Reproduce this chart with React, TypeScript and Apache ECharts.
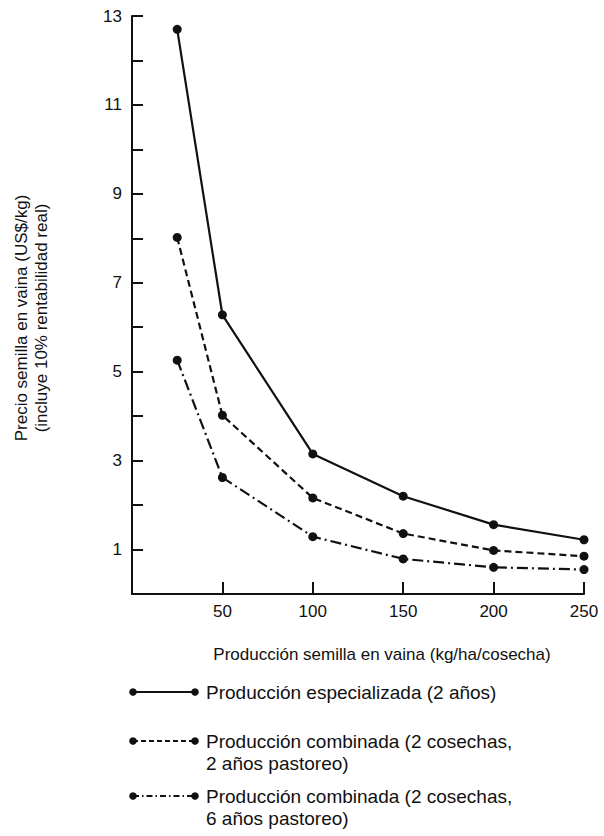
import React, { useEffect, useRef } from "react";
import * as echarts from "echarts";

const xValues = [25, 50, 100, 150, 200, 250];
const especializada = [12.7, 6.28, 3.15, 2.2, 1.56, 1.22];
const combinada2 = [8.02, 4.02, 2.16, 1.36, 0.98, 0.85];
const combinada6 = [5.26, 2.62, 1.29, 0.79, 0.6, 0.55];

const seriesNames = [
  "Producción especializada (2 años)",
  "Producción combinada (2 cosechas,\n2 años pastoreo)",
  "Producción combinada (2 cosechas,\n6 años pastoreo)",
];
const xTitle = "Producción semilla en vaina (kg/ha/cosecha)";
const yTitle1 = "Precio semilla en vaina (US$/kg)";
const yTitle2 = "(incluye 10% rentabilidad real)";

const FONT = "Liberation Sans, Arial, Helvetica, sans-serif";
const INK = "#111";
const DASHES: any[] = ["solid", [7, 4], [11, 4, 2, 4]];
const LEGEND_DASHES: any[] = [null, [5, 3], [6, 3, 1.5, 3]];

export default function App() {
  const ref = useRef<HTMLDivElement>(null);
  useEffect(() => {
    if (!ref.current) return;
    const chart = echarts.init(ref.current, undefined, { renderer: "svg" });
    const datasets = [especializada, combinada2, combinada6];
    const series = datasets.map((vals, i) => ({
      type: "line",
      name: seriesNames[i],
      data: xValues.map((x, j) => [x, vals[j]]),
      symbol: "circle",
      symbolSize: 9,
      itemStyle: { color: INK },
      lineStyle: { color: INK, width: 2.2, type: DASHES[i] },
    }));

    const legendYs = [692, 741, 796];
    const legendGraphics: any[] = [];
    legendYs.forEach((y, i) => {
      legendGraphics.push({
        type: "line",
        shape: { x1: 133, y1: y, x2: 195, y2: y },
        style: { stroke: INK, lineWidth: 1.8, lineDash: LEGEND_DASHES[i] },
      });
      legendGraphics.push({ type: "circle", shape: { cx: 133, cy: y, r: 3.8 }, style: { fill: INK } });
      legendGraphics.push({ type: "circle", shape: { cx: 195, cy: y, r: 3.8 }, style: { fill: INK } });
      legendGraphics.push({
        type: "text",
        x: 206,
        y: y - 11,
        style: { text: seriesNames[i], font: `19px ${FONT}`, fill: INK, lineHeight: 22 },
      });
    });

    chart.setOption({
      animation: false,
      backgroundColor: "#fff",
      grid: { left: 132, right: 20, top: 16, bottom: 242 },
      xAxis: {
        type: "value",
        min: 0,
        max: 250,
        interval: 50,
        axisLine: { lineStyle: { color: INK, width: 2 } },
        axisTick: { inside: true, length: 12, lineStyle: { color: INK, width: 2 } },
        splitLine: { show: false },
        axisLabel: {
          color: INK,
          fontSize: 17,
          fontFamily: FONT,
          margin: 9,
          formatter: (v: number) => (v === 0 ? "" : String(v)),
        },
      },
      yAxis: {
        type: "value",
        min: 0,
        max: 13,
        interval: 1,
        axisLine: { show: true, lineStyle: { color: INK, width: 2 } },
        axisTick: { show: true, inside: true, length: 11, lineStyle: { color: INK, width: 2 } },
        splitLine: { show: false },
        axisLabel: {
          color: INK,
          fontSize: 17,
          fontFamily: FONT,
          margin: 10,
          formatter: (v: number) => (v % 2 === 1 ? String(v) : ""),
        },
      },
      graphic: [
        {
          type: "text",
          x: 382,
          y: 654,
          style: { text: xTitle, font: `17px ${FONT}`, fill: INK, align: "center", verticalAlign: "middle" },
        },
        {
          type: "text",
          x: 21,
          y: 318,
          rotation: Math.PI / 2,
          style: { text: yTitle1, font: `17px ${FONT}`, fill: INK, align: "center", verticalAlign: "middle" },
        },
        {
          type: "text",
          x: 41,
          y: 318,
          rotation: Math.PI / 2,
          style: { text: yTitle2, font: `17px ${FONT}`, fill: INK, align: "center", verticalAlign: "middle" },
        },
        ...legendGraphics,
      ],
      series,
    });
    return () => chart.dispose();
  }, []);
  return (
    <div
      ref={ref}
      style={{ position: "fixed", left: 0, top: 0, width: 604, height: 836, background: "#fff" }}
    />
  );
}
